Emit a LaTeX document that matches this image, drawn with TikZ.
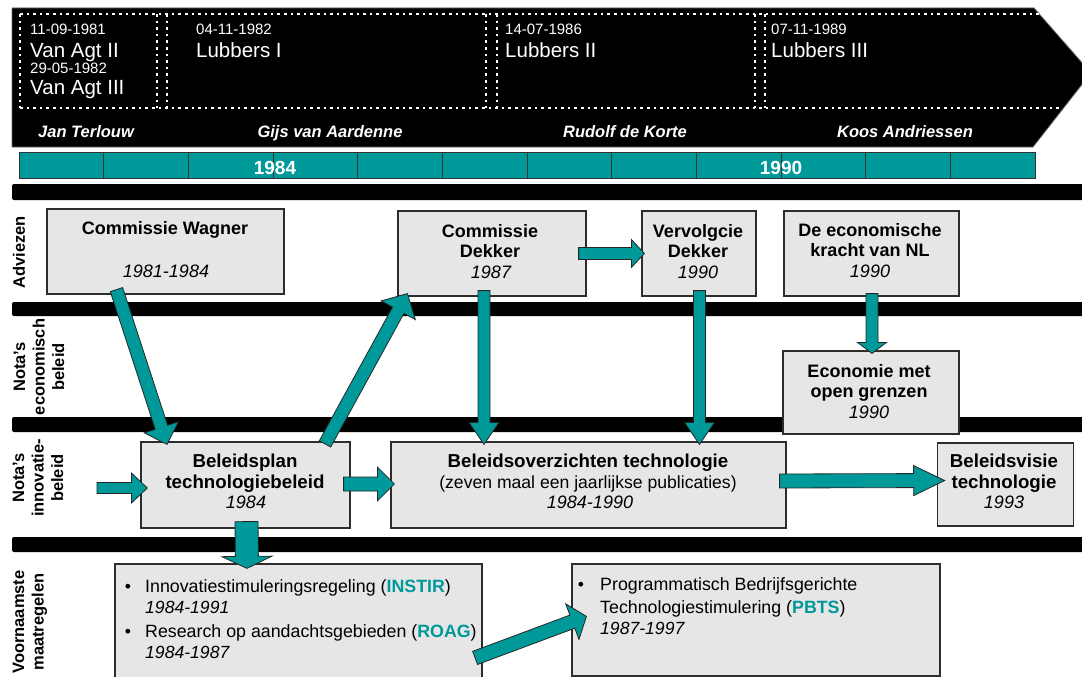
\documentclass[tikz,border=0pt]{standalone}
\usepackage{fontspec}
\setmainfont{Liberation Sans}
\usetikzlibrary{calc}
\definecolor{teal0}{RGB}{0,153,153}
\definecolor{boxfill}{RGB}{230,230,230}
\definecolor{boxline}{RGB}{45,45,45}
\newcommand\myfs[2]{\fontsize{#1}{#2}\selectfont}
% block arrow: from, to, half shaft, half head, head length
\newcommand\blockarr[5]{%
  \coordinate (ba-h) at ($(#2)!#5!(#1)$);
  \filldraw[arr] ($(#1)!#3!90:(#2)$) -- ($(ba-h)!#3!90:(#2)$) -- ($(ba-h)!#4!90:(#2)$)
    -- (#2) -- ($(ba-h)!#4!-90:(#2)$) -- ($(ba-h)!#3!-90:(#2)$) -- ($(#1)!#3!-90:(#2)$) -- cycle;}
\begin{document}
\begin{tikzpicture}[x=1pt,y=-1pt,
  box/.style={draw=boxline, fill=boxfill, line width=1.2pt, inner sep=0pt},
  ttl/.style={anchor=base, inner sep=0pt, font=\myfs{18}{20}\bfseries},
  ttlb/.style={anchor=base, inner sep=0pt, font=\myfs{18.7}{21}\bfseries},
  yr/.style={anchor=base, inner sep=0pt, font=\myfs{18}{20}\itshape},
  txt/.style={anchor=base west, inner sep=0pt, font=\myfs{17.8}{20}},
  itx/.style={anchor=base west, inner sep=0pt, font=\myfs{17.6}{20}\itshape},
  bul/.style={anchor=base, inner sep=0pt, font=\myfs{17.6}{20}},
  band/.style={fill=black, rounded corners=2pt},
  dots/.style={white, line width=2.6pt, dash pattern=on 2.6pt off 4pt},
  date/.style={anchor=base west, inner sep=0pt, white, font=\myfs{15}{17}},
  cab/.style={anchor=base west, inner sep=0pt, white, font=\myfs{20.5}{22}},
  mini/.style={anchor=base, inner sep=0pt, white, font=\myfs{16.5}{18}\bfseries\itshape},
  yearlab/.style={anchor=base, inner sep=0pt, white, font=\myfs{19}{20}\bfseries},
  rowlab/.style={rotate=90, align=center, inner sep=0pt, font=\myfs{16.5}{19.5}\bfseries},
  arr/.style={fill=teal0, draw=black!85, line width=0.8pt, line join=miter}
]
\useasboundingbox (0,0) rectangle (1082,677);
\fill[white] (0,0) rectangle (1082,677);

% ---- banner ----
\filldraw[fill=black, draw=black!60, line width=0.8pt] (12,8) -- (1034,8) -- (1091,73) -- (1033,147) -- (12,147) -- cycle;
\draw[dots] (20,14) -- (1039,14);
\draw[dots] (20,108) -- (1062,108);
\foreach \xx in {20,157,167,486,497,755,765} \draw[dots] (\xx,14) -- (\xx,108);

\node[date] (d1) at (30,35) {11-09-1981};
\node[cab]  (c1) at (30,58) {Van Agt II};
\node[date] (d2) at (30,74) {29-05-1982};
\node[cab]  (c2) at (30,95) {Van Agt III};
\node[date] (d3) at (196,35) {04-11-1982};
\node[cab]  (c3) at (196,58) {Lubbers I};
\node[date] (d4) at (505,35) {14-07-1986};
\node[cab]  (c4) at (505,58) {Lubbers II};
\node[date] (d5) at (771,35) {07-11-1989};
\node[cab]  (c5) at (771,58) {Lubbers III};

\node[mini] (m1) at (86,137) {Jan Terlouw};
\node[mini] (m2) at (330,137) {Gijs van Aardenne};
\node[mini] (m3) at (625,137) {Rudolf de Korte};
\node[mini] (m4) at (905,137) {Koos Andriessen};

% ---- timeline ----
\filldraw[fill=teal0, draw=black!80, line width=1pt] (19,152) rectangle (1035,178);
\foreach \k in {1,...,11} \draw[black!80, line width=1pt] ({19+\k*84.67},152) -- ({19+\k*84.67},178);
\node[yearlab] (y84) at (275,174) {1984};
\node[yearlab] (y90) at (781,174) {1990};

% ---- bands ----
\fill[band] (12,184) rectangle (1092,200);
\fill[band] (12,302) rectangle (1092,316);
\fill[band] (12,417) rectangle (1092,432);
\fill[band] (12,537) rectangle (1092,552);

% ---- row labels ----
\node[rowlab] (r1) at (19,252.5) {Adviezen};
\node[rowlab] (r2) at (39,367) {Nota’s\\economisch\\beleid};
\node[rowlab] (r3) at (38,478) {Nota’s\\innovatie-\\beleid};
\node[rowlab] (r4) at (30,622) {Voornaamste\\maatregelen};

% ---- boxes ----
\node[box, minimum width=237pt, minimum height=85pt] (wagner) at (165.5,251.5) {};
\node[box, minimum width=188pt, minimum height=85pt] (dekker) at (492,253.5) {};
\node[box, minimum width=114pt, minimum height=85pt] (vervolg) at (699,253.5) {};
\node[box, minimum width=175pt, minimum height=85pt] (kracht) at (871.5,253.5) {};
\node[box, minimum width=176pt, minimum height=83pt] (open) at (871,392.5) {};
\node[box, minimum width=209pt, minimum height=86pt] (plan) at (245.5,485) {};
\node[box, minimum width=395pt, minimum height=86pt] (overz) at (588.5,485) {};
\node[box, minimum width=136.5pt, minimum height=83pt] (visie) at (1005.5,484.5) {};
\node[box, minimum width=367pt, minimum height=126pt] (maatr1) at (298.5,627) {};
\node[box, minimum width=368pt, minimum height=112pt] (maatr2) at (756,620) {};

% ---- box texts ----
\node[ttl] (t1) at (165,234) {Commissie Wagner};
\node[yr]  (t1y) at (166,277) {1981-1984};
\node[ttl] (t2a) at (490,237) {Commissie};
\node[ttl] (t2b) at (490,257) {Dekker};
\node[yr]  (t2y) at (491,278) {1987};
\node[ttl] (t3a) at (698,237) {Vervolgcie};
\node[ttl] (t3b) at (698,257) {Dekker};
\node[yr]  (t3y) at (698,278) {1990};
\node[ttl] (t4a) at (870,236) {De economische};
\node[ttl] (t4b) at (870,256) {kracht van NL};
\node[yr]  (t4y) at (870,277) {1990};
\node[ttl] (t5a) at (869,377) {Economie met};
\node[ttl] (t5b) at (869,397) {open grenzen};
\node[yr]  (t5y) at (869,418) {1990};
\node[ttlb] (t6a) at (245,467) {Beleidsplan};
\node[ttlb] (t6b) at (245,488) {technologiebeleid};
\node[yr]   (t6y) at (246,508) {1984};
\node[ttlb] (t7a) at (588,467) {Beleidsoverzichten technologie};
\node[anchor=base, inner sep=0pt, font=\myfs{17.6}{20}] (t7b) at (588,488) {(zeven maal een jaarlijkse publicaties)};
\node[yr]   (t7y) at (590,508) {1984-1990};
\node[ttlb] (t8a) at (1004,467) {Beleidsvisie};
\node[ttlb] (t8b) at (1004,488) {technologie};
\node[yr]   (t8y) at (1004,508) {1993};

\node[bul] (b1) at (128,592) {•};
\node[txt] (i1) at (145,592) {Innovatiestimuleringsregeling (\textcolor{teal0}{\textbf{INSTIR}})};
\node[itx] (i1y) at (145,613) {1984-1991};
\node[bul] (b2) at (128,637) {•};
\node[txt] (i2) at (145,637) {Research op aandachtsgebieden (\textcolor{teal0}{\textbf{ROAG}})};
\node[itx] (i2y) at (145,658) {1984-1987};
\node[bul] (b3) at (581,590) {•};
\node[txt] (i3) at (600,590) {Programmatisch Bedrijfsgerichte};
\node[txt] (i3b) at (600,613) {Technologiestimulering (\textcolor{teal0}{\textbf{PBTS}})};
\node[itx] (i3y) at (600,634) {1987-1997};

% ---- arrow end points ----
\coordinate (a1s) at ([xshift=-49pt,yshift=5pt]wagner.south);
\coordinate (a1e) at ([xshift=-78.5pt,yshift=-3pt]plan.north);
\coordinate (a2s) at ([xshift=79.5pt,yshift=-2.5pt]plan.north);
\coordinate (a2e) at ([xshift=10pt,yshift=3pt]dekker.south west);
\coordinate (a3s) at ([xshift=-8pt]dekker.east);
\coordinate (a3e) at ([xshift=3pt]vervolg.west);
\coordinate (a4s) at ([xshift=-8pt,yshift=6pt]dekker.south);
\coordinate (a4e) at ([xshift=-104.5pt,yshift=-3pt]overz.north);
\coordinate (a5s) at ([xshift=0.5pt,yshift=6pt]vervolg.south);
\coordinate (a5e) at ([xshift=111pt,yshift=-3pt]overz.north);
\coordinate (a6s) at ([xshift=0.5pt,yshift=3pt]kracht.south);
\coordinate (a6e) at ([xshift=1pt,yshift=-3pt]open.north);
\coordinate (a7s) at (97,488);
\coordinate (a7e) at ([xshift=7pt,yshift=-3pt]plan.west);
\coordinate (a8s) at ([xshift=-7pt,yshift=1pt]plan.east);
\coordinate (a8e) at ([xshift=4pt,yshift=1pt]overz.west);
\coordinate (a9s) at ([xshift=-7pt,yshift=4pt]overz.east);
\coordinate (a9e) at ([xshift=8pt,yshift=4pt]visie.west);
\coordinate (a10s) at ([xshift=1pt,yshift=7pt]plan.south);
\coordinate (a10e) at ([xshift=-51.5pt,yshift=-5pt]maatr1.north);
\coordinate (a11s) at ([xshift=-7.5pt,yshift=-94.5pt]maatr1.north east);
\coordinate (a11e) at ([xshift=15pt,yshift=-53pt]maatr2.north west);

% ---- arrows ----
\blockarr{a1s}{a1e}{6.5pt}{18pt}{18pt}
\blockarr{a2s}{a2e}{6.5pt}{19.5pt}{19pt}
\blockarr{a3s}{a3e}{6pt}{14pt}{13pt}
\blockarr{a4s}{a4e}{6pt}{15pt}{22pt}
\blockarr{a5s}{a5e}{6pt}{15pt}{22pt}
\blockarr{a6s}{a6e}{6pt}{14.5pt}{11pt}
\blockarr{a7s}{a7e}{5.5pt}{15pt}{16pt}
\blockarr{a8s}{a8e}{7pt}{17pt}{17pt}
\blockarr{a9s}{a9e}{7pt}{15pt}{31pt}
\blockarr{a10s}{a10e}{11.5pt}{25pt}{12pt}
\blockarr{a11s}{a11e}{7pt}{19pt}{15pt}
\end{tikzpicture}
\end{document}
